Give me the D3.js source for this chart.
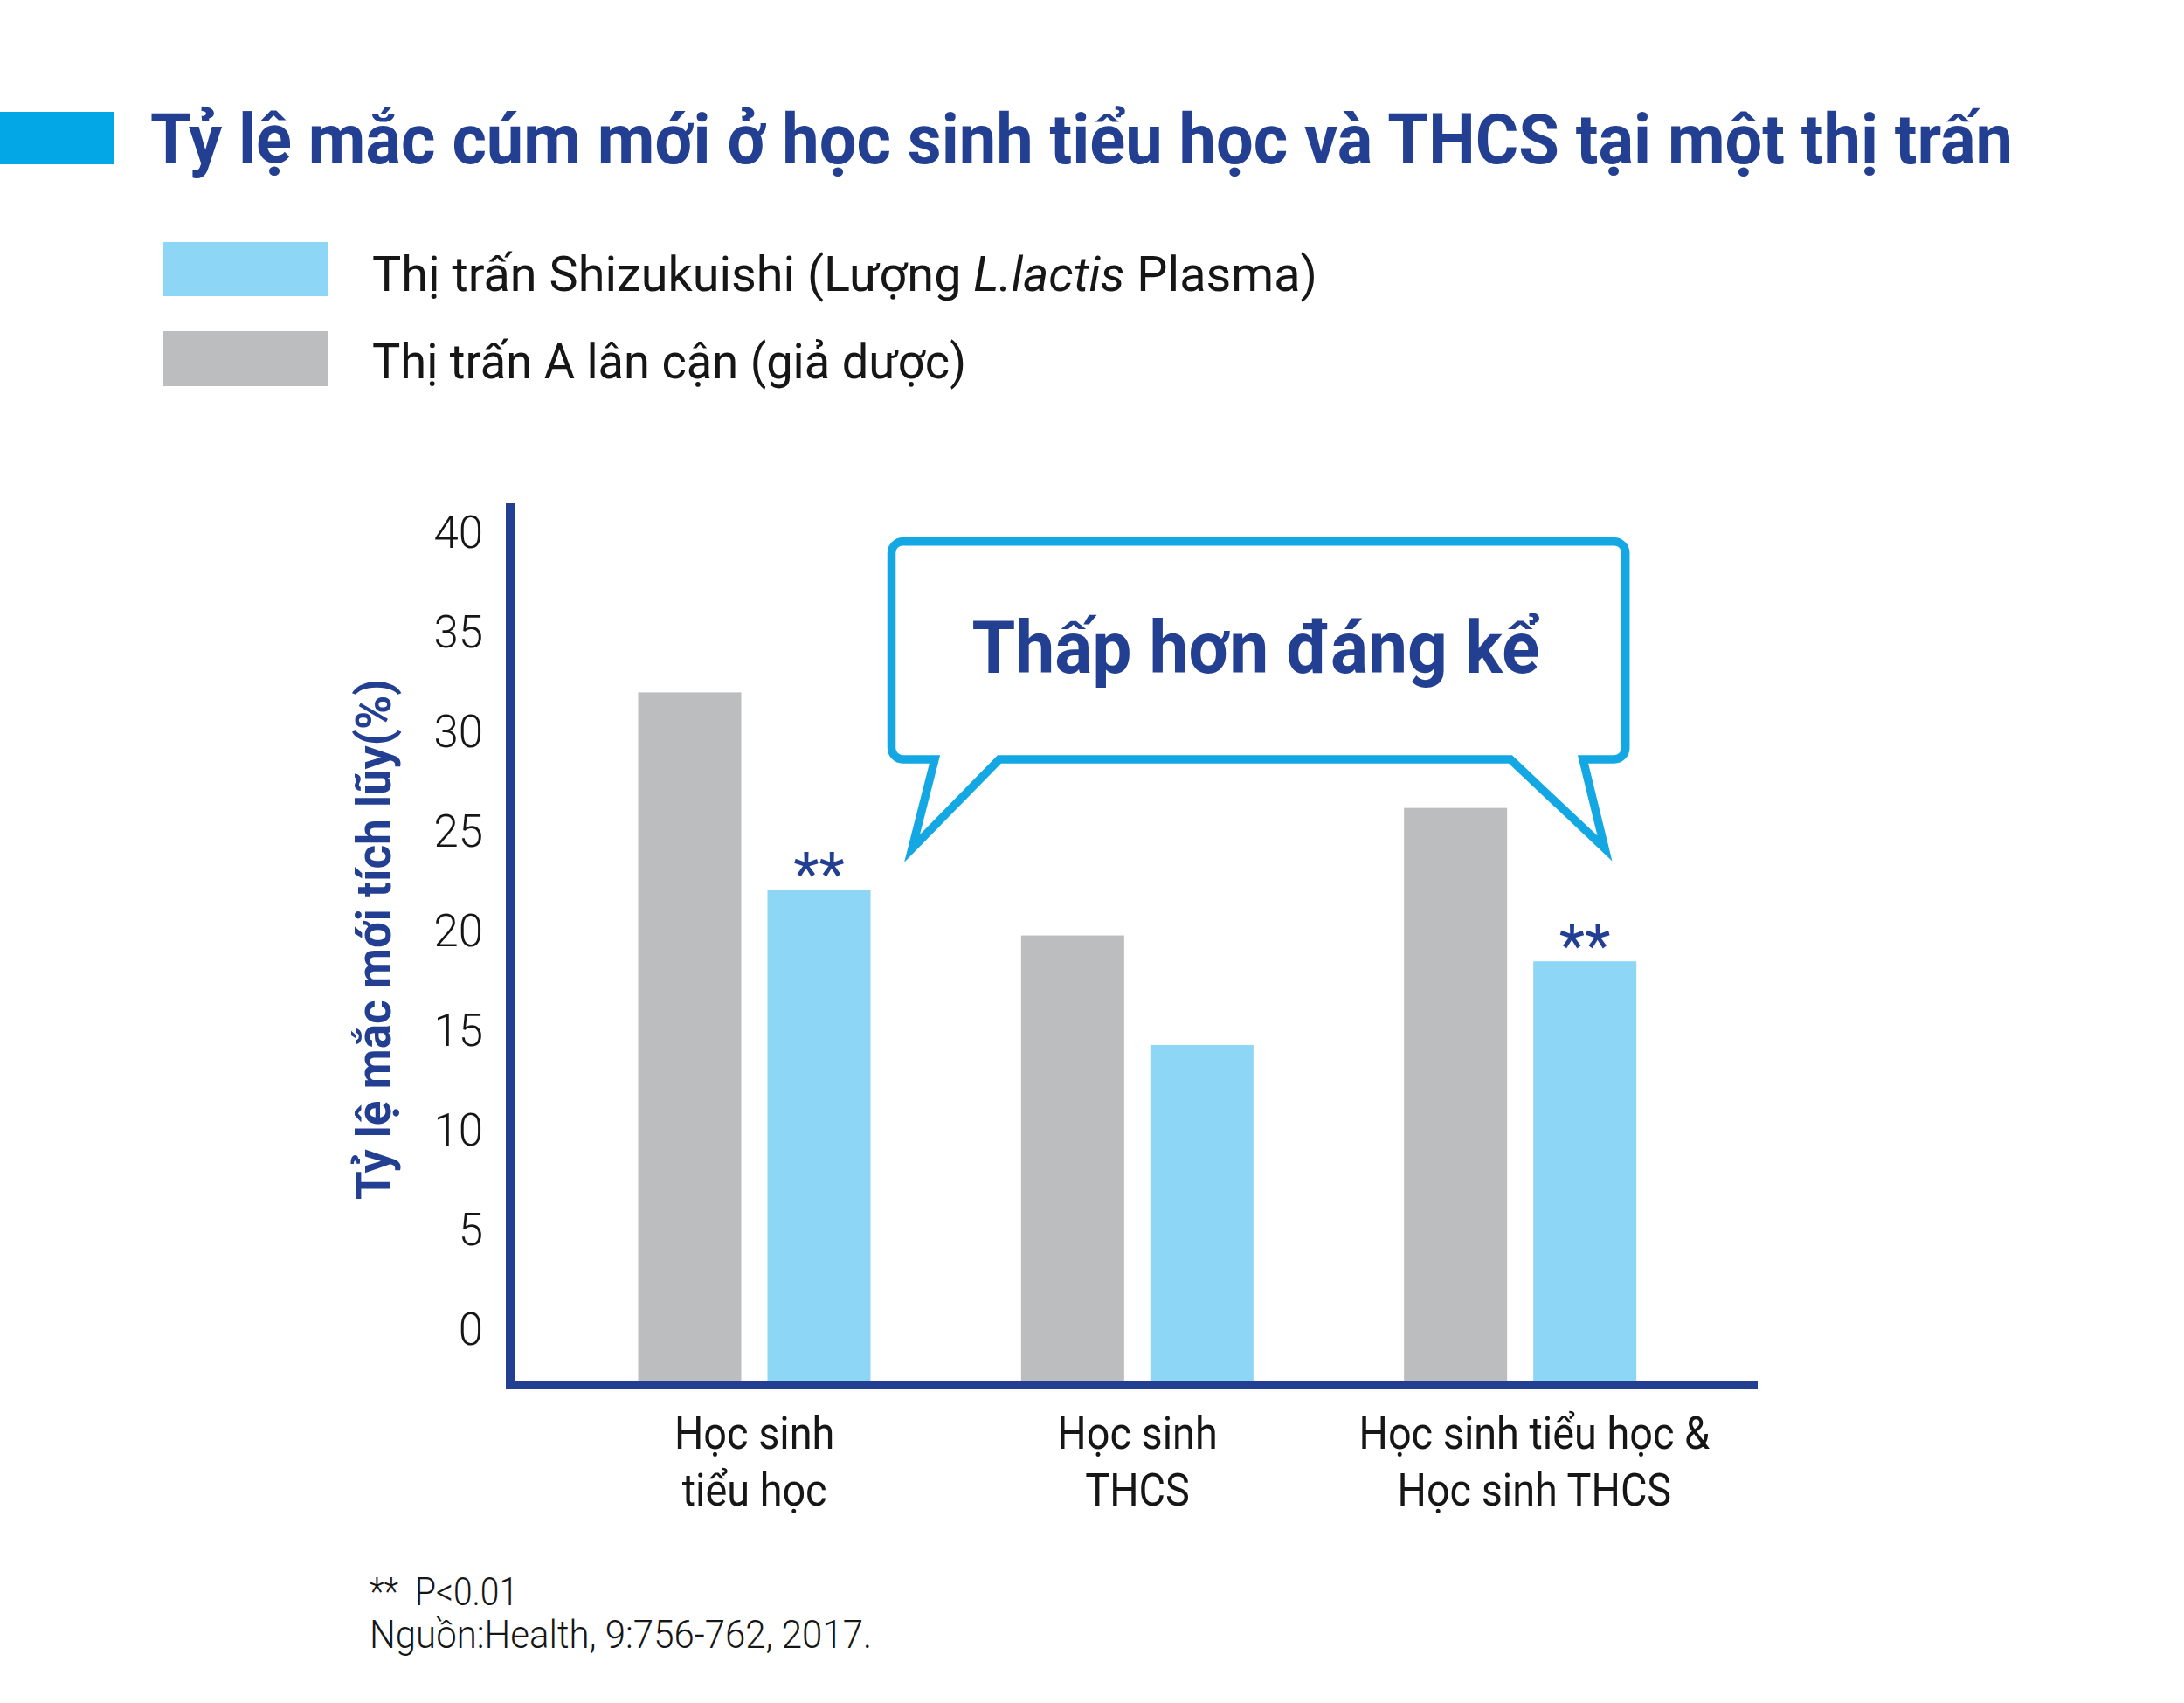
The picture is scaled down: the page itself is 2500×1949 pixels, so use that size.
<!DOCTYPE html>
<html><head><meta charset="utf-8">
<script src="https://cdn.jsdelivr.net/npm/d3@7"></script>
<style>body{margin:0;background:#fff}svg{display:block}</style>
</head><body>
<svg id="chart" width="2500" height="1949"></svg>
<script>
// ---------- DATA ----------
const categoryKeys = ["elem", "jhs", "all"];
const categoryLabels = [["Học sinh", "tiểu học"], ["Học sinh", "THCS"], ["Học sinh tiểu học &", "Học sinh THCS"]];
const seriesKeys = ["placebo", "plasma"];
const placeboValues = [32.0, 19.8, 26.2];
const plasmaValues = [22.1, 14.3, 18.5];
const plasmaSignificance = ["**", "", "**"];
const yTicks = [0, 5, 10, 15, 20, 25, 30, 35, 40];
const titleText = "Tỷ lệ mắc cúm mới ở học sinh tiểu học và THCS tại một thị trấn";
const yAxisTitle = "Tỷ lệ mắc mới tích lũy(%)";
const calloutText = "Thấp hơn đáng kể";
const footnotes = ["**  P<0.01", "Nguồn:Health, 9:756-762, 2017."];

// ---------- STYLE ----------
const C = {
  navy: "#233f92", cyan: "#04a7e6", blue: "#8ed6f6", gray: "#bcbdbf",
  axis: "#243f91", bubble: "#13a8e4", text: "#161616"
};
const FONT = "Roboto, 'Noto Sans', sans-serif";
const footnoteWidths = [170, 575];

const svg = d3.select("#chart");

function fit(sel, w) { sel.attr("textLength", w).attr("lengthAdjust", "spacingAndGlyphs"); }

// ---------- TITLE ----------
svg.append("rect").attr("x", 0).attr("y", 128).attr("width", 131).attr("height", 60).attr("fill", C.cyan);
svg.append("text").attr("x", 172).attr("y", 187)
  .attr("font-family", FONT).attr("font-weight", 700).attr("font-size", 79)
  .attr("fill", C.navy).text(titleText).call(fit, 2132);

// ---------- LEGEND ----------
const legend = svg.append("g");
legend.append("rect").attr("x", 187).attr("y", 277).attr("width", 188).attr("height", 62).attr("fill", C.blue);
legend.append("rect").attr("x", 187).attr("y", 379).attr("width", 188).attr("height", 63).attr("fill", C.gray);
const l1 = legend.append("text").attr("x", 426).attr("y", 333)
  .attr("font-family", FONT).attr("font-size", 56).attr("fill", C.text);
l1.append("tspan").text("Thị trấn Shizukuishi (Lượng ");
l1.append("tspan").attr("font-style", "italic").text("L.lactis");
l1.append("tspan").text(" Plasma)");
fit(l1, 1082);
legend.append("text").attr("x", 426).attr("y", 433)
  .attr("font-family", FONT).attr("font-size", 56).attr("fill", C.text)
  .text("Thị trấn A lân cận (giả dược)").call(fit, 680);

// ---------- SCALES ----------
const x0 = d3.scaleBand().domain(categoryKeys).range([644.5, 1959.5]).paddingInner(0).paddingOuter(0);
const x1 = d3.scaleBand().domain(seriesKeys).range([86, 352]).paddingInner(0.2027);
const y = d3.scaleLinear().domain([0, 40]).range([1522, 610]);
const barBase = 1581;
const axisX = 584, axisTop = 576, axisBottom = 1590, axisRight = 2012;

const rows = categoryKeys.map((k, i) => ({ key: k, placebo: placeboValues[i], plasma: plasmaValues[i], sig: plasmaSignificance[i] }));
const color = d3.scaleOrdinal().domain(seriesKeys).range([C.gray, C.blue]);

// ---------- BARS ----------
const groups = svg.append("g").selectAll("g").data(rows).join("g")
  .attr("transform", d => `translate(${x0(d.key)},0)`);
groups.selectAll("rect").data(d => seriesKeys.map(s => ({ s, v: d[s] }))).join("rect")
  .attr("x", d => x1(d.s)).attr("width", x1.bandwidth())
  .attr("y", d => y(d.v)).attr("height", d => barBase - y(d.v))
  .attr("fill", d => color(d.s));
groups.append("text")
  .attr("x", x1("plasma") + x1.bandwidth() / 2)
  .attr("y", d => y(d.plasma) + 6)
  .attr("text-anchor", "middle").attr("font-family", FONT).attr("font-size", 68)
  .attr("fill", C.navy).text(d => d.sig);

// ---------- AXES ----------
const yAxis = d3.axisLeft(y).tickValues(yTicks).tickSize(0).tickPadding(31);
const yg = svg.append("g").attr("transform", `translate(${axisX},0)`).call(yAxis);
yg.select(".domain").remove();
yg.selectAll("text").attr("font-family", FONT).attr("font-weight", 300).attr("font-size", 51).attr("fill", C.text);

svg.append("line").attr("x1", axisX).attr("x2", axisX).attr("y1", axisTop).attr("y2", axisBottom)
  .attr("stroke", C.axis).attr("stroke-width", 10);
svg.append("line").attr("x1", axisX - 5).attr("x2", axisRight).attr("y1", 1585.5).attr("y2", 1585.5)
  .attr("stroke", C.axis).attr("stroke-width", 9);

// y axis title
svg.append("text").attr("transform", `translate(447,1075) rotate(-90)`)
  .attr("text-anchor", "middle").attr("font-family", FONT).attr("font-weight", 700).attr("font-size", 56)
  .attr("fill", C.navy).text(yAxisTitle).call(fit, 596);

// x category labels
const xl = svg.append("g").selectAll("text").data(rows).join("text")
  .attr("text-anchor", "middle").attr("font-family", FONT).attr("font-size", 52).attr("fill", C.text);
xl.each(function (d, i) {
  const t = d3.select(this);
  categoryLabels[i].forEach((line, j) => {
    t.append("tspan").attr("x", x0(d.key) + x0.bandwidth() / 2 + (i === 2 ? 16 : 0))
      .attr("y", 1658 + j * 65).text(line);
  });
});
xl.selectAll("tspan").each(function () {
  const n = this; const w = n.getComputedTextLength();
  d3.select(n).attr("textLength", w * 0.9).attr("lengthAdjust", "spacingAndGlyphs");
});

// ---------- CALLOUT ----------
const b = { l: 1020.5, r: 1860.7, t: 619.7, btm: 869, rad: 13 };
const bubblePath = d3.path();
bubblePath.moveTo(b.l + b.rad, b.t);
bubblePath.lineTo(b.r - b.rad, b.t);
bubblePath.arcTo(b.r, b.t, b.r, b.t + b.rad, b.rad);
bubblePath.lineTo(b.r, b.btm - b.rad);
bubblePath.arcTo(b.r, b.btm, b.r - b.rad, b.btm, b.rad);
bubblePath.lineTo(1812, b.btm);
bubblePath.lineTo(1837, 971);
bubblePath.lineTo(1729, b.btm);
bubblePath.lineTo(1144, b.btm);
bubblePath.lineTo(1044, 971);
bubblePath.lineTo(1070, b.btm);
bubblePath.lineTo(b.l + b.rad, b.btm);
bubblePath.arcTo(b.l, b.btm, b.l, b.btm - b.rad, b.rad);
bubblePath.lineTo(b.l, b.t + b.rad);
bubblePath.arcTo(b.l, b.t, b.l + b.rad, b.t, b.rad);
bubblePath.closePath();
svg.append("path").attr("d", bubblePath.toString()).attr("fill", "#fff")
  .attr("stroke", C.bubble).attr("stroke-width", 9.5).attr("stroke-linejoin", "miter").attr("stroke-miterlimit", 10);
svg.append("text").attr("x", 1112.5).attr("y", 770)
  .attr("font-family", FONT).attr("font-weight", 700).attr("font-size", 83)
  .attr("fill", C.navy).text(calloutText).call(fit, 650);

// ---------- FOOTNOTES ----------
svg.append("g").selectAll("text").data(footnotes).join("text")
  .attr("x", 423).attr("y", (d, i) => 1837 + i * 49)
  .attr("font-family", FONT).attr("font-weight", 300).attr("font-size", 44).attr("fill", C.text)
  .style("white-space", "pre")
  .text(d => d)
  .each(function (d, i) { fit(d3.select(this), footnoteWidths[i]); });
</script>
</body></html>
